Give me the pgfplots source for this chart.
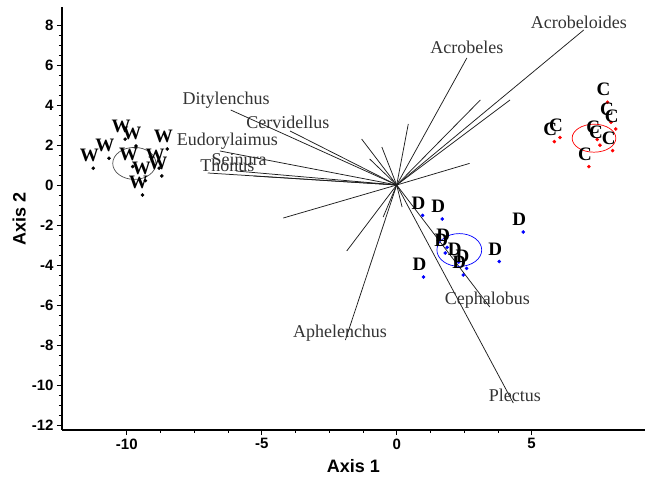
\documentclass[border=0pt]{standalone}
\usepackage{pgfplots}
\pgfplotsset{compat=1.18}
\usepackage{fontspec}
\setmainfont{Liberation Serif}
\newfontfamily\arial{Liberation Sans}
\definecolor{vecgray}{RGB}{30,30,30}
\begin{document}
\begin{tikzpicture}
\path[use as bounding box] (-62pt,-56pt) rectangle (583pt,430pt);
\begin{axis}[
  at={(0,0)}, anchor=south west,
  scale only axis, width=583pt, height=423pt,
  xmin=-12.4, xmax=9.2, ymin=-12.25, ymax=8.9,
  axis lines=left,
  axis line style={-, line width=1.3pt},
  xtick={-10,-5,0,5}, ytick={-12,-10,...,8},
  minor x tick num=3, minor y tick num=3,
  tick align=outside,
  major tick length=5pt, minor tick length=3pt,
  tick style={black, line width=0.8pt},
  /pgf/number format/assume math mode=true,
  tick label style={font=\arial\bfseries\fontsize{15}{17}\selectfont},
  xlabel={Axis 1}, ylabel={Axis 2},
  label style={font=\arial\bfseries\fontsize{18}{20}\selectfont},
  xlabel style={yshift=-3pt},
  ylabel style={yshift=-1pt},
  clip=false,
]
% vectors
\pgfplotsset{vec/.style={vecgray, line width=0.75pt}}
\addplot[vec] coordinates {(0,0) (6.93,7.75)};
\addplot[vec] coordinates {(0,0) (2.6,6.35)};
\addplot[vec] coordinates {(0,0) (-6.15,3.75)};
\addplot[vec] coordinates {(0,0) (-3.95,2.7)};
\addplot[vec] coordinates {(0,0) (-6.55,1.7)};
\addplot[vec] coordinates {(0,0) (-7.0,0.6)};
\addplot[vec] coordinates {(0,0) (-5.95,0.7)};
\addplot[vec] coordinates {(0,0) (-5.3,0.45)};
\addplot[vec] coordinates {(0,0) (-4.2,-1.65)};
\addplot[vec] coordinates {(0,0) (-1.3,2.3)};
\addplot[vec] coordinates {(0,0) (-1.0,1.3)};
\addplot[vec] coordinates {(0,0) (-0.55,1.9)};
\addplot[vec] coordinates {(0,0) (0.43,3.05)};
\addplot[vec] coordinates {(0,0) (2.7,1.08)};
\addplot[vec] coordinates {(0,0) (3.1,4.25)};
\addplot[vec] coordinates {(0,0) (4.2,4.25)};
\addplot[vec] coordinates {(0,0) (-1.9,-7.75)};
\addplot[vec] coordinates {(0,0) (-1.85,-3.3)};
\addplot[vec] coordinates {(0,0) (3.45,-6.1)};
\addplot[vec] coordinates {(0,0) (4.32,-10.9)};
\addplot[vec] coordinates {(0,0) (0.2,-1.1)};
\addplot[vec] coordinates {(0,0) (-0.5,-1.6)};
% species labels
\begin{scope}[every node/.style={font=\fontsize{18}{20}\selectfont, text=black!80, inner sep=0pt}]
\node at (axis cs:6.75,8.15) {Acrobeloides};
\node at (axis cs:2.6,6.9) {Acrobeles};
\node at (axis cs:-6.32,4.25) {Ditylenchus};
\node at (axis cs:-4.03,3.15) {Cervidellus};
\node at (axis cs:-6.27,2.17) {Eudorylaimus};
\node at (axis cs:-5.84,1.29) {Seinura};
\node at (axis cs:-6.27,1.0) {Thonus};
\node at (axis cs:-2.1,-7.42) {Aphelenchus};
\node at (axis cs:3.36,-5.75) {Cephalobus};
\node at (axis cs:4.38,-10.5) {Plectus};
\end{scope}
% sample points
\pgfplotsset{grp/.style={only marks, mark=*, mark size=1.6pt,
  nodes near coords={#1},
  every node near coord/.style={text=black, font=\bfseries\fontsize{19}{21}\selectfont, anchor=south, inner sep=0pt, xshift=-4pt, yshift=6pt}}}
\addplot[grp=W, black] coordinates {
(-11.24,0.84) (-10.66,1.34) (-10.06,2.29) (-9.66,1.95) (-8.5,1.8)
(-9.78,0.92) (-8.8,0.84) (-8.7,0.45) (-9.42,-0.5) (-9.31,0.22)};
\addplot[grp=C, red] coordinates {
(5.84,2.17) (6.05,2.37) (7.81,4.14) (7.94,3.14) (8.12,2.8)
(7.43,2.27) (7.53,1.99) (8.0,1.72) (7.12,0.92)};
\addplot[grp=D, blue] coordinates {
(0.96,-1.52) (1.69,-1.7) (4.69,-2.35) (1.87,-3.12) (1.8,-3.4)
(2.3,-3.85) (2.59,-4.17) (2.47,-4.5) (3.8,-3.83) (0.99,-4.6)};
% group ellipses
\draw[black!70, line width=0.7pt] (axis cs:-9.72,1.08) ellipse [x radius=0.8, y radius=0.8];
\draw[red, line width=0.7pt] (axis cs:7.31,2.34) ellipse [x radius=0.81, y radius=0.7];
\draw[blue, line width=0.7pt] (axis cs:2.32,-3.25) ellipse [x radius=0.83, y radius=0.82];
\end{axis}
\end{tikzpicture}
\end{document}
